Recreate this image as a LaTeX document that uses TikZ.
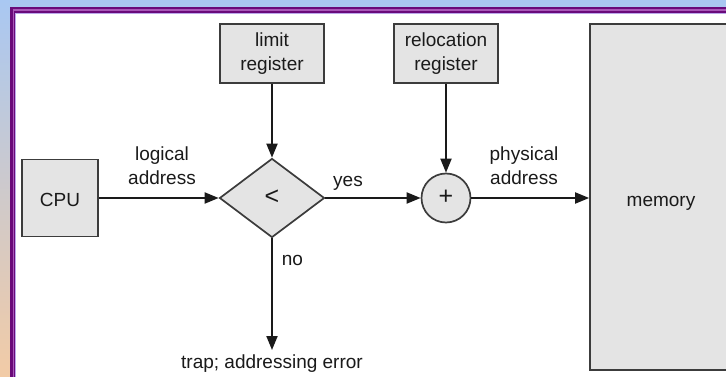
\documentclass[tikz,border=0pt]{standalone}
\usepackage{fontspec}
\setmainfont{Liberation Sans}
\usetikzlibrary{arrows.meta,shapes.geometric}
\definecolor{bgblue}{HTML}{A9C8F2}
\definecolor{bgpeach}{HTML}{F2CBA6}
\definecolor{framepurple}{HTML}{6A0A7A}
\definecolor{framemid}{HTML}{A858B8}
\definecolor{framelilac}{HTML}{BCA8EC}
\definecolor{boxfill}{HTML}{E4E4E4}
\definecolor{boxline}{HTML}{3C3C3C}
\definecolor{inkcol}{HTML}{1A1A1A}
\begin{document}
\begin{tikzpicture}[x=1pt,y=-1pt,
  every node/.style={font=\fontsize{19}{24}\selectfont, text=inkcol},
  box/.style={draw=boxline, line width=1.7pt, fill=boxfill, inner sep=0pt, align=center},
  lbl/.style={inner sep=0pt, align=center},
  sym/.style={inner sep=0pt, font=\fontsize{25}{25}\selectfont},
  flow/.style={draw=inkcol, line width=1.9pt, -{Triangle[length=14pt,width=11pt]}}]
\useasboundingbox (0,0) rectangle (726,377);
% background and frame
\shade[top color=bgblue, bottom color=bgpeach] (0,0) rectangle (726,377);
\fill[framepurple] (10,7) rectangle (740,390);
\draw[framemid, line width=1.2pt] (13.2,10) rectangle (745,395);
\fill[white] (16,14) rectangle (740,390);
\draw[framelilac, line width=1pt] (15.5,13.5) rectangle (745,395);
% nodes
\node[box, minimum width=76pt, minimum height=77pt] (cpu) at (60,198) {};
\node[lbl, anchor=base] (cputxt) at (60,206.7) {CPU};
\node[box, minimum width=104pt, minimum height=59pt] (limit) at (272,53.5) {limit\\register};
\node[box, minimum width=104pt, minimum height=59pt] (reloc) at (446,53.5) {relocation\\register};
\node[box, diamond, minimum width=105pt, minimum height=79pt] (cmp) at (272,198) {};
\node[sym] (lt) at (272,197) {<};
\node[box, circle, minimum size=49pt] (add) at (446,198) {};
\node[sym] (plus) at (446,197) {+};
\node[box, minimum width=142pt, minimum height=346pt] (mem) at (661,197) {};
\node[lbl, anchor=base] (memtxt) at (661,206.7) {memory};
\coordinate (trap) at (272,350);
% labels
\node[lbl] (la) at (162,165.5) {logical\\address};
\node[lbl] (pa) at (524,165.5) {physical\\address};
\node[lbl, anchor=base] (yes) at (348,186) {yes};
\node[lbl, anchor=base] (no) at (292.5,265) {no};
\node[lbl, anchor=base] (err) at (272,368) {trap; addressing error};
% connectors
\draw[flow] (limit.south) -- (cmp.north);
\draw[flow] (reloc.south) -- (add.north);
\draw[flow] (cpu.east) -- (cmp.west);
\draw[flow] (cmp.east) -- (add.west);
\draw[flow] (add.east) -- (mem.west |- add.east);
\draw[flow] (cmp.south) -- (trap);
\end{tikzpicture}
\end{document}
